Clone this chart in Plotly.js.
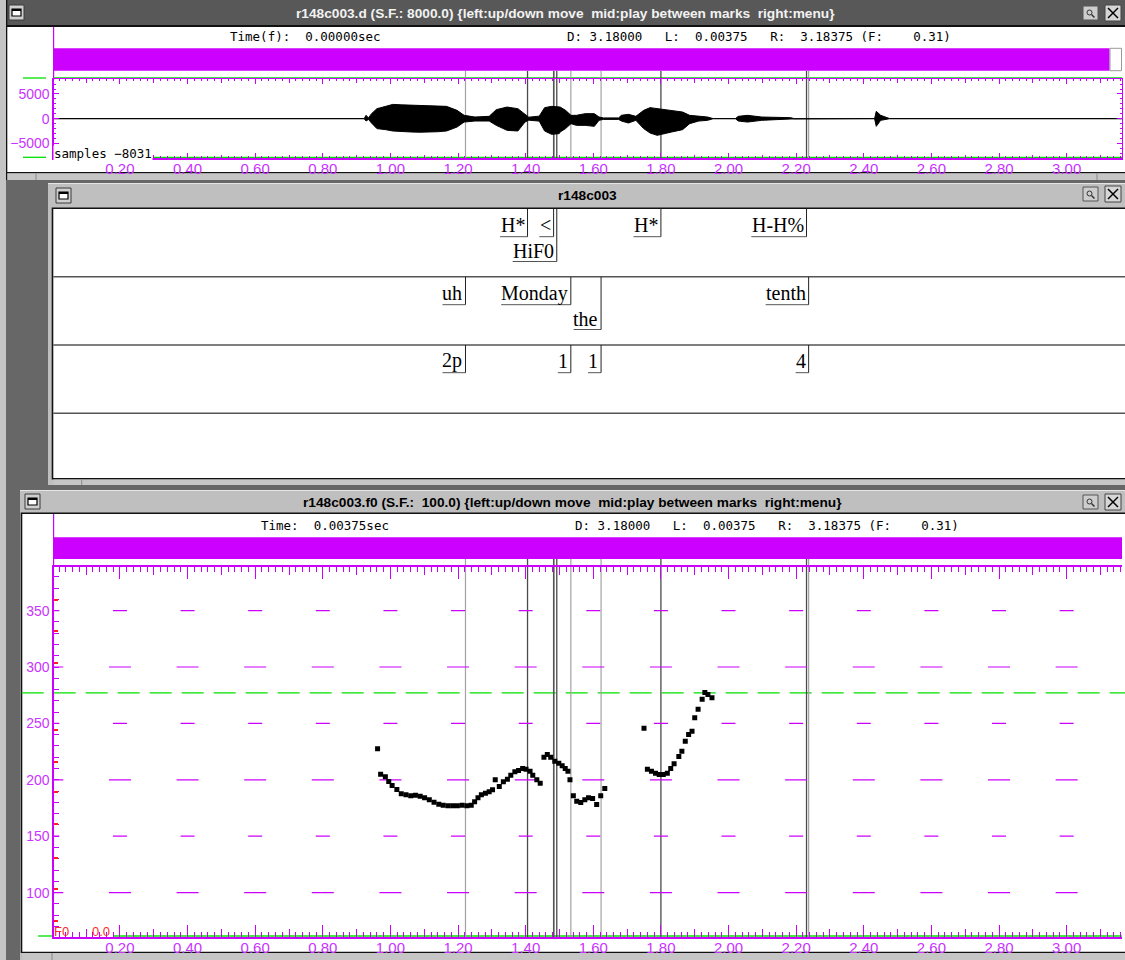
<!DOCTYPE html>
<html>
<head>
<meta charset="utf-8">
<script src="https://cdn.plot.ly/plotly-3.0.1.min.js"></script>
<style>
  html, body { margin: 0; padding: 0; background: #676767; overflow: hidden; }
  #chart { width: 1125px; height: 960px; }
</style>
</head>
<body>
<div id="chart"></div>
<script>
// ---------------- data ----------------
// speech waveform r148c003.d, drawn as its peak envelope (samples, 8 kHz file)
const waveTimes = [0.00375, 0.922, 0.928, 0.935, 0.944, 0.960, 0.986, 1.007, 1.033, 1.060, 1.087, 1.113, 1.140, 1.166,
  1.197, 1.218, 1.250, 1.292, 1.313, 1.345, 1.377, 1.398, 1.409, 1.440, 1.456, 1.477, 1.499, 1.502, 1.518, 1.534,
  1.550, 1.576, 1.603, 1.617, 1.630, 1.675, 1.683, 1.704, 1.726, 1.749, 1.768, 1.789, 1.811, 1.832, 1.864, 1.885,
  1.912, 1.938, 1.955, 2.020, 2.029, 2.056, 2.098, 2.141, 2.184, 2.194, 2.432, 2.437, 2.450, 2.477, 3.18375];
const waveUpper = [0, 0, 670, 150, 1000, 2020, 2490, 2890, 2800, 2750, 2700, 2630, 2600, 2490,
  1680, 670, 330, 470, 1820, 2350, 2020, 1010, 300, 500, 2230, 2490, 2490, 2350, 1680, 670,
  670, 1010, 1010, 330, 150, 150, 670, 870, 470, 1680, 2230, 2020, 1820, 1680, 1340, 670,
  470, 330, 0, 0, 470, 670, 330, 330, 200, 0, 0, 1480, 670, 0, 0];
const waveLower = [0, 0, 480, 150, 880, 2020, 2230, 2500, 2650, 2700, 2750, 2770, 2650, 2500,
  1700, 690, 480, 480, 1360, 2370, 2500, 690, 300, 500, 2500, 3180, 3040, 2700, 2020, 1010,
  1360, 1360, 1560, 340, 150, 150, 480, 880, 340, 2020, 2910, 3380, 3040, 2700, 2230, 1010,
  480, 340, 0, 0, 480, 690, 340, 200, 70, 0, 0, 1560, 340, 0, 0];
const waveMin = -8031, waveMax = 8031;
const waveTickVals = [-5000, 0, 5000];
const waveTickText = ['\u22125000', '0', '5000'];

// pitch track r148c003.f0 (Hz, 100 frames/s, voiced frames only)
const f0Times = [0.962, 0.971, 0.985, 0.995, 1.005, 1.019, 1.032, 1.046, 1.060, 1.074, 1.088, 1.101, 1.115, 1.129,
  1.143, 1.156, 1.170, 1.184, 1.198, 1.212, 1.226, 1.239, 1.249, 1.259, 1.269, 1.281, 1.292, 1.302, 1.310, 1.322,
  1.334, 1.346, 1.356, 1.368, 1.379, 1.391, 1.401, 1.413, 1.421, 1.433, 1.443,
  1.454, 1.464, 1.474, 1.486, 1.498, 1.508, 1.517, 1.525, 1.531, 1.541, 1.551, 1.563, 1.575, 1.586, 1.598, 1.610,
  1.622, 1.634,
  1.750, 1.760, 1.772, 1.784, 1.795, 1.807, 1.819, 1.829, 1.839, 1.853, 1.862, 1.872, 1.882, 1.892, 1.900, 1.910,
  1.922, 1.930, 1.939, 1.951];
const f0Hz = [227.5, 205, 202.7, 198.5, 195, 191.4, 187.6, 186.7, 185.8, 186.4, 185.5, 184, 182.3, 180.1,
  178.4, 177.5, 177, 177, 177, 177.5, 177, 177.5, 180.5, 184, 186.7, 188.1, 189.4, 191.1, 200, 194,
  198.2, 200.5, 204, 207.1, 208.2, 210, 209.4, 207.6, 204, 200, 197,
  220, 222.4, 220, 216.5, 214.7, 212.4, 210, 207.6, 200, 185.8, 181, 179.9, 182.3, 184, 183.4, 178.1,
  185.8, 192.3,
  245.7, 209.4, 207.6, 205.9, 204.7, 204.7, 205.9, 210, 214.2, 220.7, 225.4, 234.2, 240.2, 243.1, 255, 262.6,
  271.5, 277.4, 275.6, 272.7];
const f0TickVals = [100, 150, 200, 250, 300, 350];
const f0RefHz = 277;
const f0MarkerHz = [75, 103, 131, 161, 189, 216, 244, 304, 332, 359];

// label tiers (ToBI): tones, words, break indices; each time is the label's right mark (s)
const toneLabels = ['H*', '<', 'HiF0', 'H*', 'H-H%'];
const toneTimes = [1.4055, 1.4826, 1.492, 1.800, 2.2307];
const wordLabels = ['uh', 'Monday', 'the', 'tenth'];
const wordTimes = [1.222, 1.5336, 1.623, 2.2369];
const breakLabels = ['2p', '1', '1', '4'];
const breakTimes = [1.222, 1.5336, 1.623, 2.2369];
const cursorTimes = [1.4835];

// header read-outs
const waveTitle = 'r148c003.d (S.F.: 8000.0) {left:up/down move  mid:play between marks  right:menu}';
const labelTitle = 'r148c003';
const f0Title = 'r148c003.f0 (S.F.:  100.0) {left:up/down move  mid:play between marks  right:menu}';
const waveTimeText = 'Time(f):  0.00000sec';
const f0TimeText = 'Time:  0.00375sec';
const rangeText = 'D: 3.18000   L:  0.00375   R:  3.18375 (F:    0.31)';
const waveMinText = 'samples \u22128031';
const f0FieldText = 'F0';
const f0FieldMin = '0.0';

// ---------------- geometry (page pixels) ----------------
const W = 1125, H = 960;
const PX = x => x / W;
const PY = y => 1 - y / H;
const PLOT_L = 53.6, PLOT_R = 1122;
const T0 = 0.00375, PX_PER_S = 338.1;
const T1 = T0 + (PLOT_R - PLOT_L) / PX_PER_S;
const WV_TOP = 79, WV_BOT = 158.3;
const F0_TOP = 566.5, F0_BOT = 937.3;
const F0_LO = 60.4, F0_HI = 389.1;
const LAB_TOP = 209, LAB_BOT = 478;
const TIER_TOPS = [209, 277, 345];
const TIER_LINES = [276.7, 345, 413.3];

const MAG = '#cc00ff', MAGT = '#c933ff', GREEN = '#00e000';
const tPx = t => PLOT_L + (t - T0) * PX_PER_S;

const sans = '"Liberation Sans", Arial, sans-serif';
const mono = '"DejaVu Sans Mono", monospace';
const serif = '"Liberation Serif", "Times New Roman", serif';
const nb = s => s.replace(/ /g, '\u00a0');

const shapes = [];
const annotations = [];

function rect(x0, y0, x1, y1, fill, line, lw, layer) {
  shapes.push({ type: 'rect', xref: 'paper', yref: 'paper', x0: PX(x0), x1: PX(x1), y0: PY(y1), y1: PY(y0),
    fillcolor: fill, line: { color: line || fill, width: lw || 0 }, layer: layer || 'below' });
}
function hline(x0, x1, y, color, w, dash, layer) {
  shapes.push({ type: 'line', xref: 'paper', yref: 'paper', x0: PX(x0), x1: PX(x1), y0: PY(y), y1: PY(y),
    line: { color: color, width: w || 1, dash: dash || 'solid' }, layer: layer || 'below' });
}
function vline(x, y0, y1, color, w, layer) {
  shapes.push({ type: 'line', xref: 'paper', yref: 'paper', x0: PX(x), x1: PX(x), y0: PY(y0), y1: PY(y1),
    line: { color: color, width: w || 1 }, layer: layer || 'below' });
}
function note(text, x, y, font, xanchor, extra) {
  annotations.push(Object.assign({ text: nb(text), xref: 'paper', yref: 'paper', x: PX(x), y: PY(y),
    xanchor: xanchor || 'left', yanchor: 'middle', showarrow: false, font: font }, extra || {}));
}
function windowIcon(x, y) {
  rect(x, y, x + 15, y + 15, '#cfcfcf', '#3a3a3a', 1);
  rect(x + 3, y + 4, x + 12, y + 11, '#ffffff', '#000000', 1.2);
  rect(x + 3, y + 4, x + 12, y + 6, '#000000');
}
function titleButtons(y) {
  rect(1083, y + 1, 1098, y + 15, '#cdcdcd', '#555', 1);
  shapes.push({ type: 'circle', xref: 'paper', yref: 'paper', x0: PX(1087), x1: PX(1092), y0: PY(y + 10), y1: PY(y + 5),
    line: { color: '#333', width: 1 }, layer: 'below' });
  shapes.push({ type: 'line', xref: 'paper', yref: 'paper', x0: PX(1091.5), x1: PX(1094.5), y0: PY(y + 9.5), y1: PY(y + 12.5),
    line: { color: '#333', width: 1.5 }, layer: 'below' });
  rect(1105, y, 1121, y + 16, '#d6d6d6', '#444', 1);
  shapes.push({ type: 'line', xref: 'paper', yref: 'paper', x0: PX(1108), x1: PX(1118), y0: PY(y + 3), y1: PY(y + 13),
    line: { color: '#000', width: 1.5 }, layer: 'below' });
  shapes.push({ type: 'line', xref: 'paper', yref: 'paper', x0: PX(1118), x1: PX(1108), y0: PY(y + 3), y1: PY(y + 13),
    line: { color: '#000', width: 1.5 }, layer: 'below' });
}

// ---------------- window frames ----------------
rect(0, 0, 6, 960, '#c4c4c4');
// waveform window
rect(6, 0, 1125, 27, '#585858');
rect(6, 25, 1125, 27, '#111111');
rect(7, 27, 1125, 172, '#ffffff');
rect(6, 0, 7.3, 180, '#111111');
rect(6, 172, 1125, 173.3, '#111111');
rect(7.3, 173.3, 1125, 180, '#c6c6c6');
vline(36, 173.3, 180, '#8a8a8a', 1);
vline(1097, 173.3, 180, '#8a8a8a', 1);
windowIcon(9, 5);
titleButtons(5);
// label window
rect(48, 183, 1125, 485, '#bfbfbf');
hline(48, 1125, 183.5, '#e6e6e6', 1);
rect(51.7, 207.5, 1125, 479.5, '#111111');
rect(53.3, 209, 1125, 478, '#ffffff');
rect(53.3, 479.5, 1125, 485, '#c6c6c6');
vline(81.7, 479.5, 485, '#8a8a8a', 1);
windowIcon(56, 188);
titleButtons(186);
TIER_LINES.forEach(y => hline(53.3, 1125, y, '#555555', 1.5));
// pitch window
rect(20, 490, 1125, 960, '#bfbfbf');
hline(20, 1125, 490.5, '#e6e6e6', 1);
rect(20.7, 512.5, 1125, 953, '#111111');
rect(22.3, 514, 1125, 951.7, '#ffffff');
rect(22.3, 953, 1125, 960, '#c6c6c6');
vline(52, 953, 960, '#8a8a8a', 1);
windowIcon(25, 494);
titleButtons(494);

// ---------------- header read-outs ----------------
const titleFont = size => ({ family: sans, size: size, color: '#000', weight: 'bold' });
note(waveTitle, 565, 13, Object.assign(titleFont(13.7), { color: '#f2f2f2' }), 'center');
note(labelTitle, 587, 196, titleFont(13.7), 'center');
note(f0Title, 572.5, 502, titleFont(13.7), 'center');
const monoFont = { family: mono, size: 12.5, color: '#000' };
note(waveTimeText, 227.5, 36.7, monoFont);
note(rangeText, 564.5, 36.7, monoFont);
note(f0TimeText, 259, 525, monoFont);
note(rangeText, 573, 525, monoFont);

// magenta view bars and their y-axis spines
rect(53.6, 48.3, 1109.6, 70.7, MAG);
rect(1110, 48.3, 1121.5, 70.7, '#ffffff', '#9a9a9a', 1);
rect(53.6, 537.3, 1122, 559, MAG);
vline(53.6, 27, 80, MAG, 1.2);
vline(53.6, 514, 567, MAG, 1.2);

// green limit lines
hline(23, 46, 78, GREEN, 1.3);
hline(53.6, 1122, 78, GREEN, 1.3);
hline(23, 46, 157.3, GREEN, 1.3);
hline(153.6, 1122, 157.3, GREEN, 1.3);
hline(38, 53.6, 936, GREEN, 1.3);
hline(114, 1122, 936, GREEN, 1.3);
shapes.push({ type: 'line', xref: 'paper', yref: 'y2', x0: PX(21.7), x1: 1, y0: f0RefHz, y1: f0RefHz,
  line: { color: GREEN, width: 1.3, dash: '22px,10px' }, layer: 'below' });

note(waveMinText, 52.5, 153.5, monoFont, 'left', { bgcolor: '#ffffff', borderpad: 0 });
note(f0FieldText, 51.5, 931, { family: sans, size: 13, color: '#ff2a2a' });
note(f0FieldMin, 90, 931, { family: sans, size: 13, color: '#ff2a2a' });

// ---------------- pitch grid marks ----------------
for (let k = 0; k <= 16; k++) {
  const t = +(k * 0.2).toFixed(2);
  f0TickVals.forEach(hz => {
    const half = hz % 100 === 0 ? 11 : 7;
    shapes.push({ type: 'line', xref: 'x2', yref: 'y2', xsizemode: 'pixel', xanchor: t, x0: -half, x1: half,
      y0: hz, y1: hz, line: { color: MAG, width: 1.2 }, layer: 'below' });
  });
}

// ---------------- segment marks through the signal panels ----------------
const markSets = [
  { times: wordTimes, color: '#a2a2a2', width: 1.2 },
  { times: toneTimes, color: '#4a4a4a', width: 1.3 },
  { times: cursorTimes, color: '#5a5a5a', width: 1.1 }
];
markSets.forEach(ms => ms.times.forEach(t => {
  shapes.push({ type: 'line', xref: 'x', yref: 'paper', x0: t, x1: t, y0: PY(WV_BOT), y1: PY(71),
    line: { color: ms.color, width: ms.width }, layer: 'below' });
  shapes.push({ type: 'line', xref: 'x2', yref: 'paper', x0: t, x1: t, y0: PY(F0_BOT), y1: PY(559),
    line: { color: ms.color, width: ms.width }, layer: 'below' });
}));

// ---------------- label tiers ----------------
const ctx = document.createElement('canvas').getContext('2d');
const labelSize = 20;
ctx.font = labelSize + 'px "Liberation Serif"';
const tiers = [
  { labels: toneLabels, times: toneTimes, top: TIER_TOPS[0] },
  { labels: wordLabels, times: wordTimes, top: TIER_TOPS[1] },
  { labels: breakLabels, times: breakTimes, top: TIER_TOPS[2] }
];
tiers.forEach(tier => {
  let prevPx = null;
  tier.labels.forEach((lab, i) => {
    const t = tier.times[i];
    const mPx = tPx(t);
    const w = ctx.measureText(lab).width;
    const start = mPx - 2 - w;
    const row = (prevPx !== null && start < prevPx + 8) ? 2 : 1;
    const textY = tier.top + (row === 1 ? 16 : 41.5);
    const lineY = tier.top + (row === 1 ? 27.7 : 52.5);
    annotations.push({ text: lab, xref: 'x3', yref: 'paper', x: t, xshift: -2, y: PY(textY),
      xanchor: 'right', yanchor: 'middle', showarrow: false,
      font: { family: serif, size: labelSize, color: '#000' }, borderpad: 0 });
    shapes.push({ type: 'line', xref: 'x3', yref: 'paper', xsizemode: 'pixel', xanchor: t, x0: -(w + 3), x1: 0,
      y0: PY(lineY), y1: PY(lineY), line: { color: '#555', width: 1 }, layer: 'above' });
    shapes.push({ type: 'line', xref: 'x3', yref: 'paper', x0: t, x1: t, y0: PY(lineY), y1: PY(tier.top),
      line: { color: '#222', width: 1 }, layer: 'above' });
    prevPx = mPx;
  });
});

// ---------------- traces ----------------
const polyX = waveTimes.concat(waveTimes.slice().reverse());
const polyY = waveUpper.concat(waveLower.map(v => -v).reverse());
const traces = [
  { type: 'scatter', mode: 'lines', x: polyX, y: polyY, xaxis: 'x', yaxis: 'y', fill: 'toself',
    fillcolor: '#000', line: { color: '#000', width: 1 }, hoverinfo: 'skip', showlegend: false },
  { type: 'scatter', mode: 'markers', x: f0Times, y: f0Hz, xaxis: 'x2', yaxis: 'y2',
    marker: { symbol: 'square', size: 5, color: '#000' }, hoverinfo: 'skip', showlegend: false },
  { type: 'scatter', x: [], y: [], xaxis: 'x3', yaxis: 'y3', showlegend: false },
  { type: 'scatter', x: [], y: [], xaxis: 'x4', yaxis: 'y', showlegend: false },
  { type: 'scatter', x: [], y: [], xaxis: 'x5', yaxis: 'y2', showlegend: false },
  { type: 'scatter', x: [], y: [], xaxis: 'x2', yaxis: 'y4', showlegend: false }
];

const xDom = [PX(PLOT_L), PX(PLOT_R)];
const tickFont = { family: sans, size: 15, color: MAGT };
function timeAxis(anchor, majorLen, minorLen) {
  return {
    domain: xDom, range: [T0, T1], anchor: anchor, fixedrange: true,
    tick0: 0, dtick: 0.2, tickformat: '.2f', ticks: 'inside', ticklen: majorLen, tickwidth: 1, tickcolor: MAG,
    showline: true, linecolor: MAG, linewidth: 1.2, mirror: 'ticks', showgrid: false, zeroline: false,
    tickfont: tickFont, ticklabelstandoff: -4,
    minor: { tick0: 0, dtick: 0.02, ticks: 'inside', ticklen: minorLen, tickcolor: MAG, tickwidth: 1, showgrid: false }
  };
}
function midAxis(over, anchor, len) {
  return { overlaying: over, anchor: anchor, range: [T0, T1], domain: xDom, fixedrange: true,
    tick0: 0, dtick: 0.1, ticks: 'inside', ticklen: len, tickcolor: MAG, tickwidth: 1,
    showline: false, mirror: 'ticks', showticklabels: false, showgrid: false, zeroline: false };
}

const layout = {
  width: W, height: H, margin: { l: 0, r: 0, t: 0, b: 0, pad: 0 },
  paper_bgcolor: '#676767', plot_bgcolor: 'rgba(0,0,0,0)', showlegend: false,
  xaxis: timeAxis('y', 5, 2),
  xaxis4: midAxis('x', 'y', 3.5),
  yaxis: {
    domain: [PY(WV_BOT), PY(WV_TOP)], range: [waveMin, waveMax], anchor: 'x', fixedrange: true,
    tickvals: waveTickVals, ticktext: waveTickText, ticks: 'inside', ticklen: 5, tickcolor: MAG,
    showline: true, linecolor: MAG, linewidth: 1.2, mirror: 'ticks', showgrid: false, zeroline: false,
    tickfont: { family: sans, size: 14, color: MAGT },
    minor: { dtick: 1000, tick0: 0, ticks: 'inside', ticklen: 2, tickcolor: MAG, showgrid: false }
  },
  xaxis2: timeAxis('y2', 12, 5),
  xaxis5: midAxis('x2', 'y2', 8),
  yaxis2: {
    domain: [PY(F0_BOT), PY(F0_TOP)], range: [F0_LO, F0_HI], anchor: 'x2', fixedrange: true,
    tickvals: f0TickVals, ticks: 'inside', ticklen: 5, tickcolor: MAG,
    showline: true, linecolor: MAG, linewidth: 1.2, mirror: false, showgrid: false, zeroline: false,
    tickfont: { family: sans, size: 14, color: MAGT },
    minor: { dtick: 10, tick0: 0, ticks: 'inside', ticklen: 5, tickcolor: MAG, showgrid: false }
  },
  yaxis4: {
    overlaying: 'y2', anchor: 'x2', side: 'left', range: [F0_LO, F0_HI], fixedrange: true,
    tickvals: f0MarkerHz, ticks: 'inside', ticklen: 4, tickwidth: 2, tickcolor: '#ff2020',
    showticklabels: false, showline: false, showgrid: false, zeroline: false
  },
  xaxis3: { domain: xDom, range: [T0, T1], anchor: 'y3', visible: false, fixedrange: true },
  yaxis3: { domain: [PY(LAB_BOT), PY(LAB_TOP)], range: [0, 1], anchor: 'x3', visible: false, fixedrange: true },
  shapes: shapes,
  annotations: annotations
};

Plotly.newPlot('chart', traces, layout, { staticPlot: true, displayModeBar: false });
</script>
</body>
</html>
